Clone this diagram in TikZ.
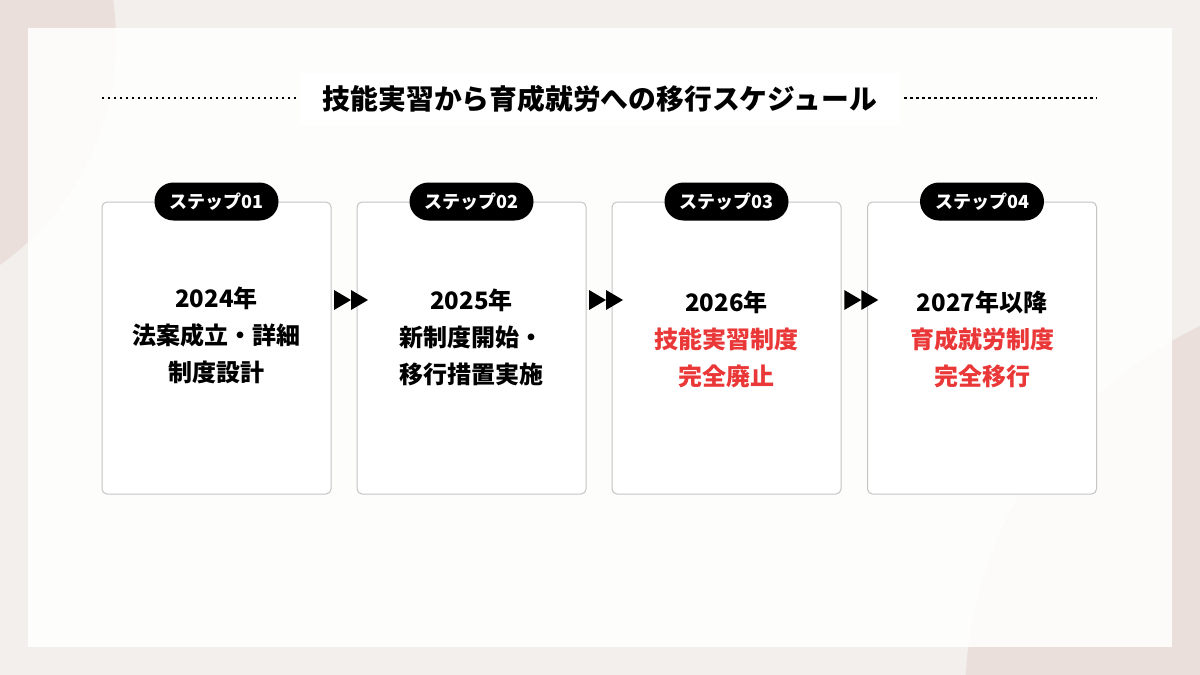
\documentclass[tikz,border=0pt]{standalone}
\usepackage{fontspec}
\setmainfont{Noto Sans CJK JP}
\usetikzlibrary{calc}
\definecolor{bgout}{HTML}{F2EFED}
\definecolor{blob}{HTML}{EADFDA}
\definecolor{cardline}{HTML}{C4C4C4}
\definecolor{accent}{HTML}{EA3838}
\begin{document}
\begin{tikzpicture}[x=1pt,y=-1pt,
  card/.style={draw=cardline, fill=white, rounded corners=5pt, line width=1pt, minimum width=229pt, minimum height=292pt, inner sep=0pt},
  pill/.style={fill=black, text=white, rounded corners=19pt, minimum width=124pt, minimum height=38pt, font=\bfseries\fontsize{18}{18}\selectfont, inner sep=0pt},
  body/.style={align=center, font=\bfseries\fontsize{24}{37}\selectfont},
  tri/.style={fill=black},
  dotline/.style={line width=2.4pt, dash pattern=on 2.4pt off 3.6pt}]
\useasboundingbox (0,0) rectangle (1200,675);
\fill[bgout] (0,0) rectangle (1200,675);
\begin{scope}
\clip (0,0) rectangle (1200,675);
\fill[blob] (-160,40) circle (276);
\fill[blob] (1380,700) circle (415);
\end{scope}
\fill[white, opacity=0.88] (28,28) rectangle (1172,647);
% title
\node[font=\bfseries\fontsize{27.8}{27.8}\selectfont, fill=white, minimum width=600pt, minimum height=52pt, inner sep=0pt] (title) at (600,99) {技能実習から育成就労への移行スケジュール};
\coordinate (dl) at (102,98);
\coordinate (dr) at (1097,98);
\draw[dotline] (dl) -- ($(title.west |- dl)+(-4,0)$);
\draw[dotline] ($(title.east |- dr)+(4,0)$) -- (dr);
% cards
\node[card] (c1) at (216.5,348) {};
\node[card] (c2) at (471.5,348) {};
\node[card] (c3) at (726.5,348) {};
\node[card] (c4) at (982,348) {};
\node[pill] (p1) at (c1.north) {ステップ01};
\node[pill] (p2) at (c2.north) {ステップ02};
\node[pill] (p3) at (c3.north) {ステップ03};
\node[pill] (p4) at (c4.north) {ステップ04};
\node[body] (t1) at (216.5,335) {2024年\\法案成立・詳細\\制度設計};
\node[body] (t2) at (471.5,337) {2025年\\新制度開始・\\移行措置実施};
\node[body] (t3) at (726.5,339) {2026年\\{\color{accent}技能実習制度}\\{\color{accent}完全廃止}};
\node[body] (t4) at (982,339) {2027年以降\\{\color{accent}育成就労制度}\\{\color{accent}完全移行}};
% arrows
\foreach \i/\j in {1/2,2/3,3/4}{
  \coordinate (a\i) at ($(c\i.east)!0.5!(c\j.west)+(7,-48)$);
  \fill[tri] (a\i) ++(-17,-10) -- ++(17,10) -- ++(-17,10) -- cycle;
  \fill[tri] (a\i) ++(0,-10) -- ++(17,10) -- ++(-17,10) -- cycle;
}
\end{tikzpicture}
\end{document}
